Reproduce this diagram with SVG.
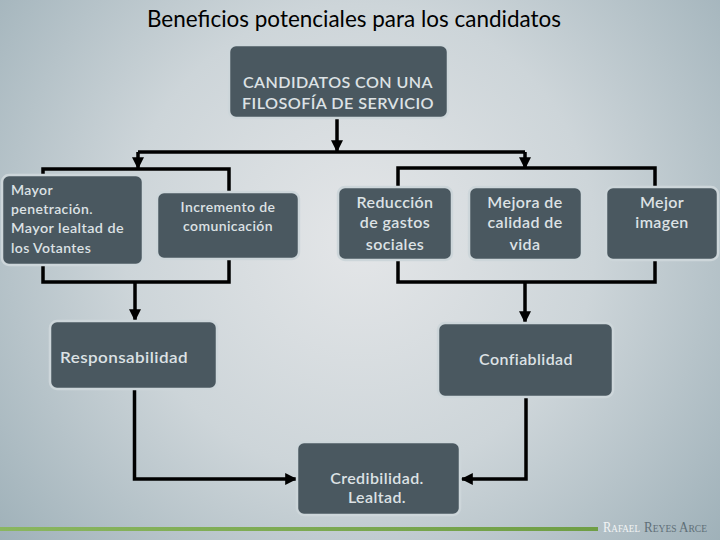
<svg xmlns="http://www.w3.org/2000/svg" width="720" height="540" viewBox="0 0 720 540">
<defs>
<radialGradient id="bg" cx="360" cy="240" r="470" gradientUnits="userSpaceOnUse">
<stop offset="0" stop-color="#e4e6e8"/>
<stop offset="0.5" stop-color="#cdd5d9"/>
<stop offset="1" stop-color="#9fb1b9"/>
</radialGradient>
<linearGradient id="green" x1="0" y1="0" x2="1" y2="0">
<stop offset="0" stop-color="#8ab660"/>
<stop offset="1" stop-color="#6f9e45"/>
</linearGradient>
<marker id="ah" viewBox="0 0 10 10" refX="9" refY="5" markerWidth="12" markerHeight="12" markerUnits="userSpaceOnUse" orient="auto">
<path d="M0,0 L10,5 L0,10 z" fill="#000"/>
</marker>
</defs>
<style>
.box{fill:#4a5860;stroke:#cdd6da;stroke-width:2.5}
.t{font-family:Lato,"Liberation Sans",sans-serif;font-weight:600;fill:#dde2e5;letter-spacing:0.4px}
.c{text-anchor:middle}
.ln{fill:none;stroke:#000;stroke-width:3.5}
.arr{fill:none;stroke:#000;stroke-width:3.5;marker-end:url(#ah)}
.sig{font-family:"Liberation Serif",serif;font-size:15px;font-variant:small-caps}
</style>
<rect width="720" height="540" fill="url(#bg)"/>
<text x="354" y="27" text-anchor="middle" font-family="Lato,'Liberation Sans',sans-serif" font-size="24" fill="#000" textLength="414" lengthAdjust="spacingAndGlyphs">Beneficios potenciales para los candidatos</text>

<g id="connectors">
<path class="arr" d="M337,118 V151"/>
<path class="ln" d="M138,152 H525"/>
<path class="arr" d="M138,152 V168"/>
<path class="arr" d="M525,152 V168"/>
<path class="ln" d="M43,176 V169 H229 V192"/>
<path class="ln" d="M398,187 V168 H655 V187"/>
<path class="ln" d="M43,265 V282 H229 V259"/>
<path class="arr" d="M135,282 V320"/>
<path class="ln" d="M398,260 V282 H655 V260"/>
<path class="arr" d="M525,282 V322"/>
<path class="arr" d="M134.5,389 V479 H296"/>
<path class="arr" d="M526,397 V479 H462"/>
</g>

<g id="n-top">
<rect class="box" x="229" y="45" width="219" height="73" rx="7"/>
<text class="t c" font-size="15" font-weight="bold" x="338" y="88" textLength="190" lengthAdjust="spacingAndGlyphs">CANDIDATOS CON UNA</text>
<text class="t c" font-size="15" font-weight="bold" x="338" y="109" textLength="192" lengthAdjust="spacingAndGlyphs">FILOSOFÍA DE SERVICIO</text>
</g>
<g id="n-mayor">
<rect class="box" x="2" y="175" width="141" height="90" rx="7"/>
<text class="t" font-size="14" x="11" y="195">Mayor</text>
<text class="t" font-size="14" x="11" y="214">penetración.</text>
<text class="t" font-size="14" x="11" y="233" textLength="113" lengthAdjust="spacingAndGlyphs">Mayor lealtad de</text>
<text class="t" font-size="14" x="11" y="253">los Votantes</text>
</g>
<g id="n-incremento">
<rect class="box" x="157" y="192" width="142" height="67" rx="7"/>
<text class="t c" font-size="14" x="228" y="212">Incremento de</text>
<text class="t c" font-size="14" x="228" y="231">comunicación</text>
</g>
<g id="n-reduccion">
<rect class="box" x="338" y="187" width="114" height="73" rx="7"/>
<text class="t c" font-size="16" x="395" y="208">Reducción</text>
<text class="t c" font-size="16" x="395" y="228">de gastos</text>
<text class="t c" font-size="16" x="395" y="250">sociales</text>
</g>
<g id="n-mejora">
<rect class="box" x="469" y="187" width="113" height="73" rx="7"/>
<text class="t c" font-size="16" x="525" y="208">Mejora de</text>
<text class="t c" font-size="16" x="525" y="228">calidad de</text>
<text class="t c" font-size="16" x="525" y="250">vida</text>
</g>
<g id="n-imagen">
<rect class="box" x="606" y="187" width="112" height="73" rx="7"/>
<text class="t c" font-size="16" x="662" y="208">Mejor</text>
<text class="t c" font-size="16" x="662" y="228">imagen</text>
</g>
<g id="n-responsabilidad">
<rect class="box" x="50" y="321" width="167" height="68" rx="7"/>
<text class="t" font-size="16" x="60" y="363" textLength="128" lengthAdjust="spacingAndGlyphs">Responsabilidad</text>
</g>
<g id="n-confiablidad">
<rect class="box" x="438" y="323" width="175" height="74" rx="7"/>
<text class="t c" font-size="16" x="526" y="365">Confiablidad</text>
</g>
<g id="n-credibilidad">
<rect class="box" x="297" y="442" width="163" height="73" rx="7"/>
<text class="t c" font-size="16" x="377" y="484">Credibilidad.</text>
<text class="t c" font-size="16" x="377" y="503">Lealtad.</text>
</g>

<rect x="0" y="527" width="598" height="4" fill="url(#green)"/>
<text class="sig" x="603" y="532" fill="#f2f4f5" textLength="37" lengthAdjust="spacingAndGlyphs">Rafael</text>
<text class="sig" x="644" y="532" fill="#5f6f77" textLength="63" lengthAdjust="spacingAndGlyphs">Reyes Arce</text>
</svg>
